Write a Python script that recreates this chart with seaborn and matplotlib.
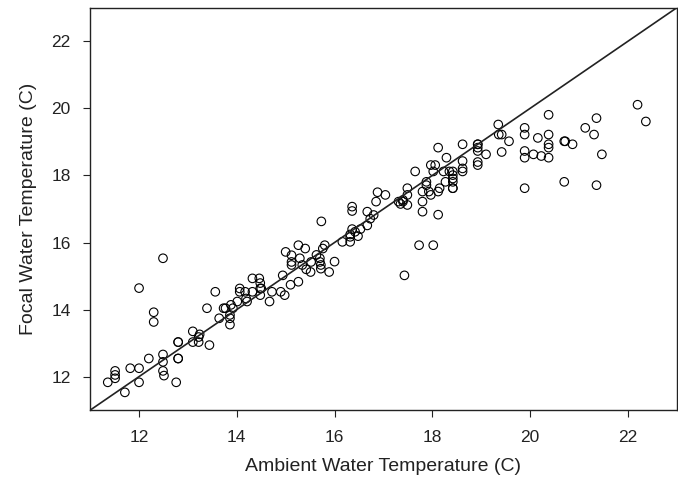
import pandas as pd
import seaborn as sns
import matplotlib.pyplot as plt

# ambient vs focal water temperature
ambient = [11.36, 11.51, 11.51, 11.51, 11.71, 11.82, 12.0, 12.0, 12.0, 12.2,
           12.3, 12.3, 12.49, 12.49, 12.49, 12.49, 12.51, 12.76, 12.8, 12.8,
           12.8, 12.8, 13.1, 13.1, 13.22, 13.22, 13.24, 13.44, 13.39, 13.56,
           13.64, 13.73, 13.77, 13.86, 13.86, 13.86, 13.88, 13.92, 14.01, 14.06,
           14.06, 14.17, 14.19, 14.21, 14.32, 14.32, 14.46, 14.48, 14.48, 14.5,
           14.48, 14.67, 14.72, 14.9, 14.94, 14.98, 15.0, 15.1, 15.12, 15.12,
           15.12, 15.26, 15.26, 15.29, 15.34, 15.4, 15.42, 15.51, 15.52, 15.63,
           15.7, 15.7, 15.72, 15.72, 15.73, 15.76, 15.8, 15.89, 16.0, 16.16,
           16.32, 16.32, 16.32, 16.36, 16.36, 16.36, 16.42, 16.48, 16.53, 16.67,
           16.67, 16.73, 16.8, 16.85, 16.88, 17.04, 17.31, 17.35, 17.4, 17.4,
           17.43, 17.49, 17.49, 17.49, 17.65, 17.73, 17.8, 17.8, 17.8, 17.88,
           17.88, 17.93, 17.97, 17.97, 18.02, 18.02, 18.06, 18.12, 18.12, 18.12,
           18.15, 18.23, 18.27, 18.29, 18.35, 18.42, 18.42, 18.42, 18.42, 18.42,
           18.42, 18.62, 18.62, 18.62, 18.62, 18.93, 18.93, 18.93, 18.93, 18.93,
           18.93, 19.1, 19.35, 19.36, 19.42, 19.42, 19.57, 19.89, 19.89, 19.89,
           19.89, 19.89, 20.07, 20.16, 20.23, 20.38, 20.38, 20.38, 20.38, 20.38,
           20.7, 20.72, 20.7, 20.87, 21.13, 21.31, 21.36, 21.36, 21.47, 22.2,
           22.37]
focal = [11.83, 12.17, 12.05, 11.95, 11.53, 12.25, 12.25, 11.83, 14.64, 12.54,
         13.92, 13.63, 15.53, 12.66, 12.44, 12.17, 12.03, 11.83, 13.03, 13.03,
         12.54, 12.54, 13.35, 13.03, 13.18, 13.03, 13.26, 12.94, 14.04, 14.53,
         13.74, 14.04, 14.04, 13.84, 13.74, 13.55, 14.14, 14.04, 14.24, 14.63,
         14.53, 14.53, 14.33, 14.24, 14.93, 14.53, 14.93, 14.79, 14.63, 14.63,
         14.43, 14.24, 14.53, 14.53, 15.02, 14.43, 15.72, 14.74, 15.62, 15.42,
         15.33, 15.92, 14.83, 15.53, 15.33, 15.82, 15.2, 15.12, 15.42, 15.63,
         15.53, 15.42, 15.33, 15.22, 16.63, 15.82, 15.92, 15.12, 15.43, 16.02,
         16.02, 16.17, 16.24, 17.07, 16.94, 16.4, 16.32, 16.19, 16.4, 16.51,
         16.92, 16.71, 16.82, 17.22, 17.5, 17.42, 17.22, 17.15, 17.22, 17.27,
         15.02, 17.62, 17.42, 17.12, 18.12, 15.92, 17.52, 17.22, 16.92, 17.71,
         17.81, 17.52, 18.31, 17.42, 15.92, 18.12, 18.31, 18.83, 16.83, 17.52,
         17.62, 18.12, 17.81, 18.53, 18.12, 17.62, 17.62, 17.81, 17.91, 18.01,
         18.12, 18.93, 18.43, 18.21, 18.12, 18.93, 18.93, 18.83, 18.73, 18.4,
         18.31, 18.63, 19.52, 19.22, 19.22, 18.7, 19.02, 19.42, 19.22, 18.73,
         18.53, 17.62, 18.63, 19.12, 18.58, 19.81, 19.22, 18.93, 18.83, 18.53,
         19.02, 19.02, 17.81, 18.93, 19.42, 19.22, 19.71, 17.71, 18.63, 20.11,
         19.61]

df = pd.DataFrame({'ambient': ambient, 'focal': focal})

sns.set_style('ticks')
plt.rcParams['font.family'] = ['Liberation Sans', 'DejaVu Sans']

fig = plt.figure(figsize=(6.78, 4.9), dpi=100)
ax = fig.add_axes([0.133, 0.163, 0.865, 0.821])

sns.scatterplot(data=df, x='ambient', y='focal', ax=ax, marker='o', s=38,
                facecolor='none', edgecolor='black', linewidth=0.8)
ax.axline((11, 11), slope=1, color='#222222', linewidth=1.2)

ax.set_xlim(11, 23)
ax.set_ylim(11, 23)
ax.set_xticks([12, 14, 16, 18, 20, 22])
ax.set_yticks([12, 14, 16, 18, 20, 22])
ax.tick_params(labelsize=12.5, length=5, width=0.8, pad=9,
               color='#222222', labelcolor='#222222')
for s in ax.spines.values():
    s.set_color('#222222')
    s.set_linewidth(1.0)
ax.set_xlabel('Ambient Water Temperature (C)', fontsize=14, color='#222222', labelpad=10)
ax.set_ylabel('Focal Water Temperature (C)', fontsize=14, color='#222222', labelpad=10)

plt.savefig('out.png', dpi=100)
